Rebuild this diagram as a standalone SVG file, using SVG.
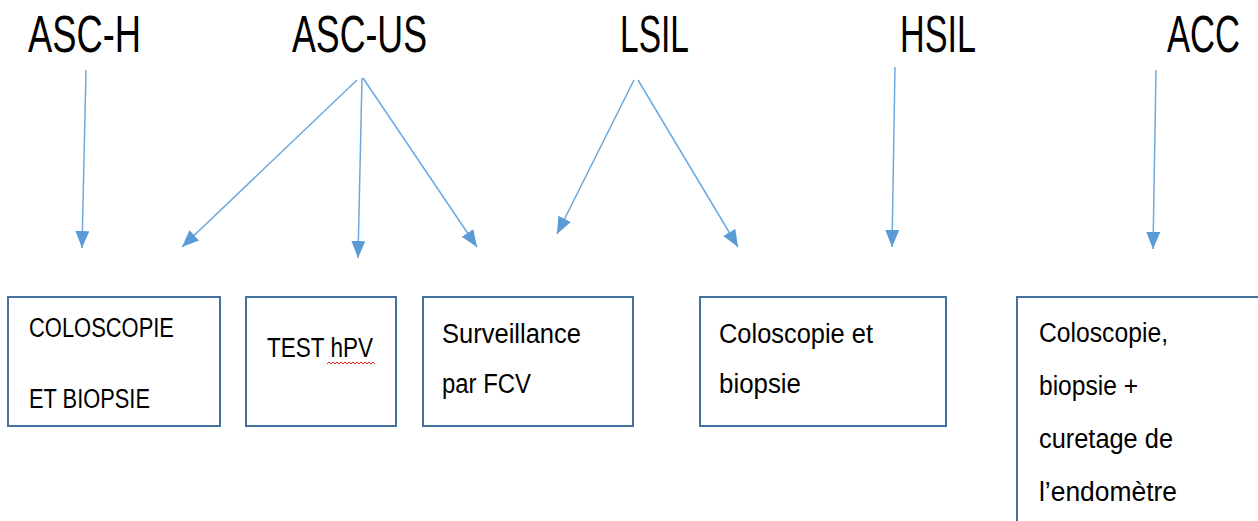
<svg xmlns="http://www.w3.org/2000/svg" width="1258" height="521" viewBox="0 0 1258 521">
<style>
.hd{font-family:"Liberation Sans",Arial,sans-serif;font-size:52px;fill:#000}
.tx{font-family:"Liberation Sans",Arial,sans-serif;font-size:27px;fill:#000}
.box{fill:#fff;stroke:#41719C;stroke-width:2}
.conn line{stroke:#6FA8DC;stroke-width:1.5;fill:none}
</style>
<defs>
<marker id="ah" markerUnits="userSpaceOnUse" markerWidth="18" markerHeight="15" refX="17" refY="7" orient="auto" viewBox="0 0 18 15">
<path d="M0,0 L17,7 L0,14 z" fill="#5B9BD5"/>
</marker>
</defs>
<g id="lbl-asch"><text class="hd" x="28" y="52" textLength="113" lengthAdjust="spacingAndGlyphs">ASC-H</text></g>
<g id="lbl-ascus"><text class="hd" x="292" y="52" textLength="135" lengthAdjust="spacingAndGlyphs">ASC-US</text></g>
<g id="lbl-lsil"><text class="hd" x="620" y="52" textLength="69" lengthAdjust="spacingAndGlyphs">LSIL</text></g>
<g id="lbl-hsil"><text class="hd" x="900" y="52" textLength="76" lengthAdjust="spacingAndGlyphs">HSIL</text></g>
<g id="lbl-acc"><text class="hd" x="1167" y="52" textLength="73" lengthAdjust="spacingAndGlyphs">ACC</text></g>
<g class="conn" id="connectors">
<line x1="86" y1="70" x2="82" y2="248" marker-end="url(#ah)"/>
<line x1="357" y1="80" x2="182" y2="247" marker-end="url(#ah)"/>
<line x1="362" y1="78" x2="358" y2="258" marker-end="url(#ah)"/>
<line x1="363" y1="78" x2="477" y2="247" marker-end="url(#ah)"/>
<line x1="634" y1="80" x2="557" y2="234" marker-end="url(#ah)"/>
<line x1="638" y1="80" x2="738" y2="247" marker-end="url(#ah)"/>
<line x1="895" y1="67" x2="892" y2="247" marker-end="url(#ah)"/>
<line x1="1156" y1="70" x2="1153" y2="249" marker-end="url(#ah)"/>
</g>
<g id="box-colo1">
<rect class="box" x="8" y="297" width="212" height="129"/>
<text class="tx" x="29" y="337" textLength="145" lengthAdjust="spacingAndGlyphs">COLOSCOPIE</text>
<text class="tx" x="29" y="408" textLength="121" lengthAdjust="spacingAndGlyphs">ET BIOPSIE</text>
</g>
<g id="box-hpv">
<rect class="box" x="246" y="297" width="150" height="129"/>
<text class="tx" x="267" y="357" textLength="106" lengthAdjust="spacingAndGlyphs">TEST hPV</text>
<path d="M327,364 l2,-2 l2,2 l2,-2 l2,2 l2,-2 l2,2 l2,-2 l2,2 l2,-2 l2,2 l2,-2 l2,2 l2,-2 l2,2 l2,-2 l2,2 l2,-2 l2,2 l2,-2 l2,2 l2,-2 l2,2 l2,-2 l2,2" fill="none" stroke="#E02020" stroke-width="1"/>
</g>
<g id="box-fcv">
<rect class="box" x="423" y="297" width="210" height="129"/>
<text class="tx" x="442" y="343" textLength="139" lengthAdjust="spacingAndGlyphs">Surveillance</text>
<text class="tx" x="442" y="393" textLength="89" lengthAdjust="spacingAndGlyphs">par FCV</text>
</g>
<g id="box-colo2">
<rect class="box" x="700" y="297" width="246" height="129"/>
<text class="tx" x="719" y="343" textLength="154" lengthAdjust="spacingAndGlyphs">Coloscopie et</text>
<text class="tx" x="719" y="393" textLength="82" lengthAdjust="spacingAndGlyphs">biopsie</text>
</g>
<g id="box-acc">
<rect class="box" x="1017" y="297" width="250" height="240"/>
<text class="tx" x="1039" y="342" textLength="129" lengthAdjust="spacingAndGlyphs">Coloscopie,</text>
<text class="tx" x="1039" y="395" textLength="99" lengthAdjust="spacingAndGlyphs">biopsie +</text>
<text class="tx" x="1039" y="448" textLength="134" lengthAdjust="spacingAndGlyphs">curetage de</text>
<text class="tx" x="1039" y="501" textLength="138" lengthAdjust="spacingAndGlyphs">l’endomètre</text>
</g>
</svg>
